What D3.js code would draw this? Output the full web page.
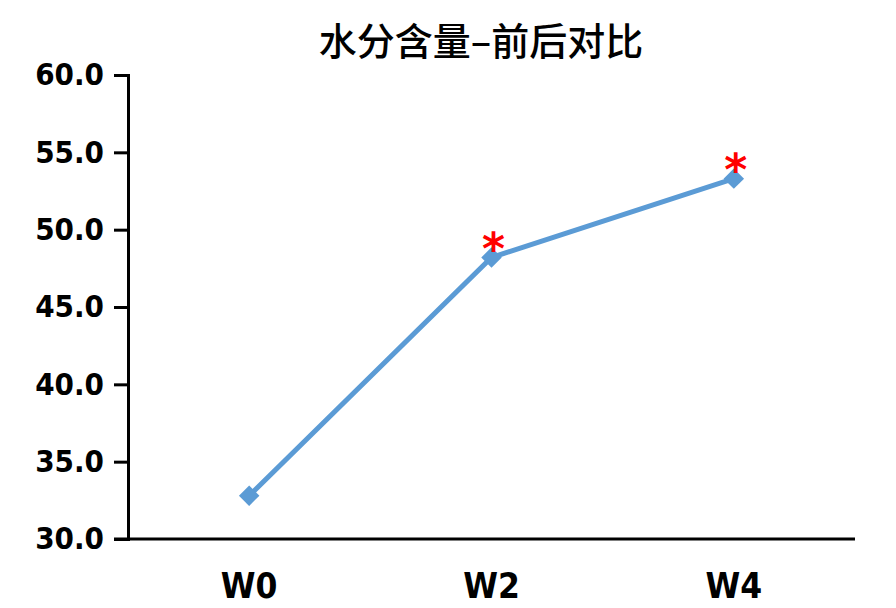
<!DOCTYPE html>
<html>
<head>
<meta charset="utf-8">
<script src="https://cdn.jsdelivr.net/npm/d3@7"></script>
<style>
  body { margin: 0; background: #fff; }
  svg { display: block; }
</style>
</head>
<body>
<svg id="chart" width="896" height="608"></svg>
<script>
const title = "水分含量–前后对比";
const categories = ["W0", "W2", "W4"];
const values = [32.8, 48.2, 53.3];
const significant = [false, true, true];
const yTicks = [30, 35, 40, 45, 50, 55, 60];

const width = 896, height = 608;
const margin = { top: 75, right: 41, bottom: 69, left: 128 };

const svg = d3.select("#chart");

const x = d3.scaleBand()
  .domain(categories)
  .range([margin.left, width - margin.right])
  .padding(0);

const y = d3.scaleLinear()
  .domain([30, 60])
  .range([height - margin.bottom, margin.top]);

// title
svg.append("text")
  .attr("x", 481)
  .attr("y", 55)
  .attr("text-anchor", "middle")
  .attr("font-family", "'Noto Sans CJK SC', sans-serif")
  .attr("font-size", 38)
  .attr("font-weight", 500)
  .attr("fill", "#000")
  .text(title);

// y axis
const yAxis = svg.append("g")
  .attr("transform", `translate(${margin.left},0)`)
  .call(d3.axisLeft(y).tickValues(yTicks).tickFormat(d3.format(".1f")).tickSize(14).tickPadding(10));
yAxis.select(".domain").attr("stroke", "#000").attr("stroke-width", 3);
yAxis.selectAll(".tick line").attr("stroke", "#000").attr("stroke-width", 3);
yAxis.selectAll(".tick text")
  .attr("font-family", "'DejaVu Sans Condensed', 'DejaVu Sans', sans-serif")
  .attr("font-weight", "bold")
  .attr("font-size", 31)
  .attr("fill", "#000");

// x axis
const xAxis = svg.append("g")
  .attr("transform", `translate(0,${height - margin.bottom})`)
  .call(d3.axisBottom(x).tickSize(0).tickPadding(34));
xAxis.select(".domain").remove();
xAxis.append("line")
  .attr("x1", margin.left - 14)
  .attr("x2", width - margin.right)
  .attr("stroke", "#000")
  .attr("stroke-width", 3);
xAxis.selectAll(".tick text")
  .attr("font-family", "'DejaVu Sans Condensed', 'DejaVu Sans', sans-serif")
  .attr("font-weight", "bold")
  .attr("font-size", 35)
  .attr("fill", "#000");

const cx = d => x(d) + x.bandwidth() / 2;

// line
const line = d3.line()
  .x((d, i) => cx(categories[i]))
  .y(d => y(d));

svg.append("path")
  .datum(values)
  .attr("d", line)
  .attr("fill", "none")
  .attr("stroke", "#5B9BD5")
  .attr("stroke-width", 5);

// diamond markers
svg.selectAll(".marker")
  .data(values)
  .join("path")
  .attr("class", "marker")
  .attr("d", d3.symbol(d3.symbolSquare, 210))
  .attr("transform", (d, i) => `translate(${cx(categories[i])},${y(d)}) rotate(45)`)
  .attr("fill", "#5B9BD5");

// significance asterisks
svg.selectAll(".star")
  .data(values.map((v, i) => ({ v, i })).filter(d => significant[d.i]))
  .join("text")
  .attr("class", "star")
  .attr("x", d => cx(categories[d.i]) + 2)
  .attr("y", d => y(d.v) + 6)
  .attr("text-anchor", "middle")
  .attr("font-family", "'DejaVu Sans', sans-serif")
  .attr("font-weight", "bold")
  .attr("font-size", 44)
  .attr("fill", "#FF0000")
  .text("*");
</script>
</body>
</html>
